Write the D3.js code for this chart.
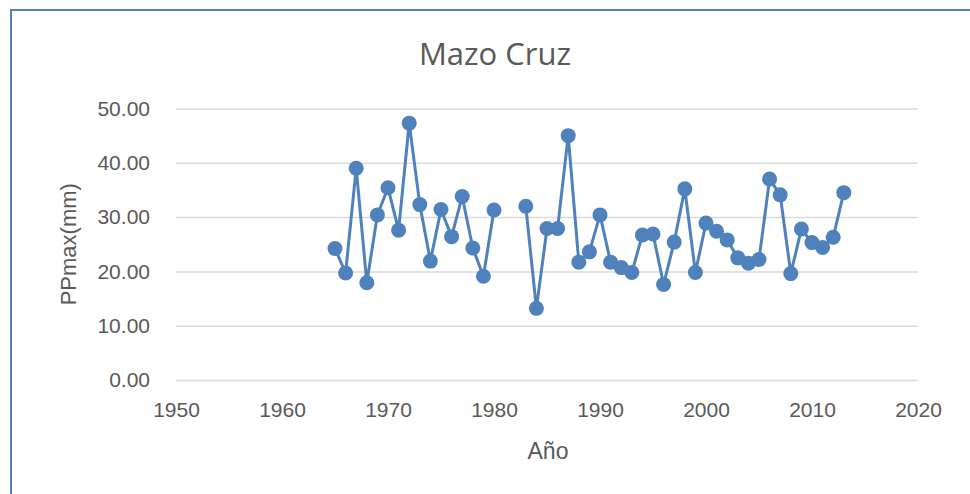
<!DOCTYPE html>
<html>
<head>
<meta charset="utf-8">
<script src="https://cdn.jsdelivr.net/npm/d3@7"></script>
<style>
  body { margin: 0; background: #fff; }
  text { font-family: "Liberation Sans", "DejaVu Sans", sans-serif; fill: #595959; }
</style>
</head>
<body>
<div id="chart"></div>
<script>
// Mazo Cruz - PPmax (mm) por año
var years = [1965, 1966, 1967, 1968, 1969, 1970, 1971, 1972, 1973, 1974,
             1975, 1976, 1977, 1978, 1979, 1980, 1981, 1982, 1983, 1984,
             1985, 1986, 1987, 1988, 1989, 1990, 1991, 1992, 1993, 1994,
             1995, 1996, 1997, 1998, 1999, 2000, 2001, 2002, 2003, 2004,
             2005, 2006, 2007, 2008, 2009, 2010, 2011, 2012, 2013];
var ppmax = [24.2, 19.7, 39.0, 17.9, 30.4, 35.4, 27.6, 47.3, 32.3, 21.9,
             31.4, 26.4, 33.8, 24.3, 19.1, 31.3, null, null, 32.0, 13.2,
             27.9, 27.9, 45.0, 21.7, 23.6, 30.4, 21.7, 20.7, 19.8, 26.7,
             26.9, 17.6, 25.4, 35.2, 19.8, 28.9, 27.4, 25.8, 22.5, 21.5,
             22.2, 37.0, 34.1, 19.6, 27.8, 25.3, 24.4, 26.3, 34.5];
var xTicks = [1950, 1960, 1970, 1980, 1990, 2000, 2010, 2020];
var yTicks = [0, 10, 20, 30, 40, 50];

var W = 970, H = 494;
var m = {left: 176, right: 918, top: 108.5, bottom: 380};
var blue = "#4f81bd";

var data = d3.zip(years, ppmax);

var svg = d3.select("#chart").append("svg")
    .attr("width", W)
    .attr("height", H);

// chart border
svg.append("rect")
    .attr("x", 11).attr("y", 10)
    .attr("width", 980).attr("height", 520)
    .attr("fill", "none")
    .attr("stroke", blue)
    .attr("stroke-width", 2);

var x = d3.scaleLinear().domain([1950, 2020]).range([m.left, m.right]);
var y = d3.scaleLinear().domain([0, 50]).range([m.bottom, m.top]);

// gridlines + y labels
var yAxis = d3.axisLeft(y).tickValues(yTicks)
    .tickSize(-(m.right - m.left))
    .tickPadding(26)
    .tickFormat(d3.format(".2f"));

var gy = svg.append("g")
    .attr("transform", "translate(" + m.left + ",0)")
    .call(yAxis);
gy.select(".domain").remove();
gy.selectAll("line").attr("stroke", "#d9d9d9").attr("stroke-width", 1.5);
gy.selectAll("text").style("font-size", "21px").attr("fill", "#595959");

// x labels
var xAxis = d3.axisBottom(x).tickValues(xTicks).tickSize(0).tickPadding(22).tickFormat(d3.format("d"));
var gx = svg.append("g")
    .attr("transform", "translate(0," + m.bottom + ")")
    .call(xAxis);
gx.select(".domain").remove();
gx.selectAll("text").style("font-size", "21px").attr("fill", "#595959");

// line
var line = d3.line()
    .defined(function(d){ return d[1] != null; })
    .x(function(d){ return x(d[0]); })
    .y(function(d){ return y(d[1]); });

svg.append("path")
    .datum(data)
    .attr("d", line)
    .attr("fill", "none")
    .attr("stroke", blue)
    .attr("stroke-width", 3)
    .attr("stroke-linejoin", "round");

svg.selectAll("circle")
    .data(data.filter(function(d){ return d[1] != null; }))
    .enter().append("circle")
    .attr("cx", function(d){ return x(d[0]); })
    .attr("cy", function(d){ return y(d[1]); })
    .attr("r", 7.5)
    .attr("fill", blue);

// titles
svg.append("text")
    .attr("x", 495).attr("y", 65)
    .attr("text-anchor", "middle")
    .style("font-family", "'Open Sans', sans-serif")
    .style("font-size", "31px")
    .text("Mazo Cruz");

svg.append("text")
    .attr("x", 548).attr("y", 459)
    .attr("text-anchor", "middle")
    .style("font-size", "23px")
    .text("Año");

svg.append("text")
    .attr("transform", "translate(76," + ((m.top + m.bottom) / 2) + ") rotate(-90)")
    .attr("text-anchor", "middle")
    .style("font-size", "22px")
    .text("PPmax(mm)");
</script>
</body>
</html>
